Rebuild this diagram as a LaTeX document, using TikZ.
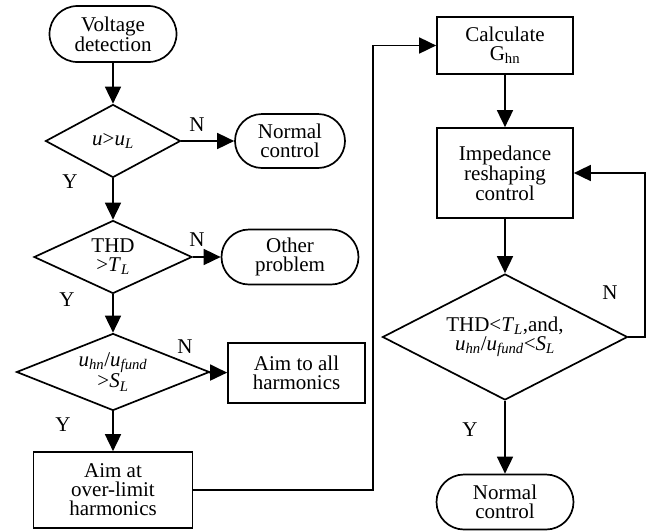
\documentclass[tikz,border=0pt]{standalone}
\usepackage{fontspec}
\setmainfont{Liberation Serif}
\usetikzlibrary{shapes.geometric,shapes.misc,arrows.meta}
\newcommand{\itsub}[1]{\textsubscript{\textit{#1}}}

\begin{document}
\begin{tikzpicture}[x=1pt,y=-1pt,
    every node/.style={font=\fontsize{21}{19}\selectfont},
    term/.style={draw,rounded rectangle,line width=1.7pt,align=center,inner sep=0pt},
    proc/.style={draw,rectangle,line width=1.7pt,align=center,inner sep=0pt},
    cond/.style={draw,diamond,aspect=2.5,line width=1.7pt,align=center,inner sep=0pt},
    flow/.style={line width=1.7pt,-{Triangle[length=17pt,width=16pt]}}]
    \useasboundingbox (0,0) rectangle (655,531);
    \node [term, minimum width=127, minimum height=56] (volt) at (113,34) {Voltage\\detection};
    \node [cond, minimum width=135, minimum height=73] (ul) at (113,141) {\textit{u}>\textit{u}\itsub{L}};
    \node [term, minimum width=110, minimum height=54] (norm) at (290,141) {Normal\\control};
    \node [cond, minimum width=158, minimum height=73] (thd) at (113,257) {THD\\>\textit{T}\itsub{L}};
    \node [term, minimum width=137, minimum height=55] (other) at (290,257) {Other\\problem};
    \node [cond, minimum width=193, minimum height=77] (ratio) at (113,372) {\textit{u}\itsub{hn}/\textit{u}\itsub{fund}\\>\textit{S}\itsub{L}};
    \node [proc, minimum width=137, minimum height=60] (all) at (296.5,373) {Aim to all\\harmonics};
    \node [proc, minimum width=159, minimum height=76] (aim) at (113,490) {Aim at\\over-limit\\harmonics};
    \node [proc, minimum width=136, minimum height=57] (calc) at (505,45.5) {Calculate\\G\textsubscript{hn}};
    \node [proc, minimum width=136, minimum height=90] (imp) at (505,173) {Impedance\\reshaping\\control};
    \node [cond, minimum width=245, minimum height=126] (check) at (505,337) {THD<\textit{T}\itsub{L},and,\\\textit{u}\itsub{hn}/\textit{u}\itsub{fund}<\textit{S}\itsub{L}};
    \node [term, minimum width=137, minimum height=55] (norm2) at (505,502) {Normal\\control};
    \coordinate (jog) at (373,490);
    \coordinate (back) at (645,337);
    \draw [flow] (volt) -- (ul);
    \draw [flow] (ul) -- (norm);
    \draw [flow] (ul) -- (thd);
    \draw [flow] (thd) -- (other);
    \draw [flow] (thd) -- (ratio);
    \draw [flow] (ratio) -- (all);
    \draw [flow] (ratio) -- (aim);
    \draw [flow] (aim.east) -- (jog) |- (calc.west);
    \draw [flow] (calc) -- (imp);
    \draw [flow] (imp) -- (check);
    \draw [flow] (check.east) -- (back) |- (imp.east);
    \draw [flow] (check) -- (norm2);
    \node (n1) at (197,125) {N};
    \node (n2) at (197,240) {N};
    \node (n3) at (185,347) {N};
    \node (n4) at (610,293) {N};
    \node (y1) at (70,182) {Y};
    \node (y2) at (67,300) {Y};
    \node (y3) at (63,425) {Y};
    \node (y4) at (470,430) {Y};
\end{tikzpicture}
\end{document}
